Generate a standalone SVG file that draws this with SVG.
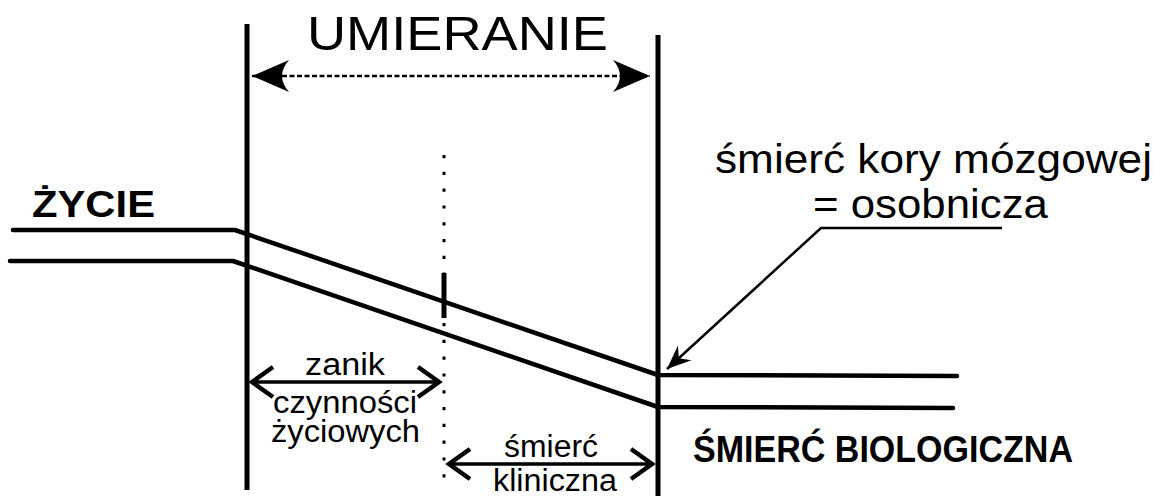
<svg xmlns="http://www.w3.org/2000/svg" width="1158" height="496" viewBox="0 0 1158 496">
<style>
.t{font-family:"Liberation Sans",Arial,sans-serif;fill:#000}
.b{font-weight:bold}
.thick{stroke:#000;stroke-width:5;fill:none;stroke-linecap:butt}
.life{stroke:#000;stroke-width:4.5;fill:none;stroke-linecap:round;stroke-linejoin:round}
.span{stroke:#000;stroke-width:3.5;fill:none}
</style>
<defs>
<marker id="big" markerUnits="userSpaceOnUse" markerWidth="50" markerHeight="40" refX="0" refY="0" viewBox="-40 -20 50 40" orient="auto-start-reverse" overflow="visible">
<path d="M0,0 L-37,-16 Q-23,0 -37,16 Z" fill="#000"/>
</marker>
<marker id="chev" markerUnits="userSpaceOnUse" markerWidth="40" markerHeight="40" refX="0" refY="0" viewBox="-30 -20 40 40" orient="auto-start-reverse" overflow="visible">
<path d="M-21,-15 L0,0 L-21,15" fill="none" stroke="#000" stroke-width="4.5" stroke-linejoin="miter"/>
</marker>
<marker id="barb" markerUnits="userSpaceOnUse" markerWidth="40" markerHeight="40" refX="0" refY="0" viewBox="-30 -20 40 40" orient="auto" overflow="visible">
<path d="M0,0 L-24,-10 L-16,0 L-24,10 Z" fill="#000"/>
</marker>
</defs>
<rect width="1158" height="496" fill="#fff"/>

<g id="boundaries">
<line class="thick" x1="247" y1="24" x2="247" y2="490"/>
<line class="thick" x1="658" y1="35" x2="658" y2="496"/>
<line x1="444" y1="155" x2="444" y2="482" stroke="#000" stroke-width="3" stroke-dasharray="3.2 13.6"/>
<line x1="444" y1="273" x2="444" y2="318" stroke="#000" stroke-width="5"/>
</g>

<g id="life-lines">
<polyline class="life" points="13,230 235,230 658,375 957,376"/>
<polyline class="life" points="10,261 233,261 658,407 953,408"/>
</g>

<g id="connectors">
<line x1="252" y1="76" x2="650" y2="76" stroke="#000" stroke-width="2.5" stroke-dasharray="5 2.5" marker-start="url(#big)" marker-end="url(#big)"/>
<line class="span" x1="252" y1="382" x2="439" y2="382" marker-start="url(#chev)" marker-end="url(#chev)"/>
<line class="span" x1="449" y1="464" x2="652" y2="464" marker-start="url(#chev)" marker-end="url(#chev)"/>
<polyline points="1002,228 821,228 667,369" fill="none" stroke="#000" stroke-width="2.5" marker-end="url(#barb)"/>
</g>

<g id="umieranie"><text class="t" x="307" y="50" font-size="49" textLength="301" lengthAdjust="spacingAndGlyphs">UMIERANIE</text></g>
<g id="zycie"><text class="t b" x="32" y="217" font-size="37" textLength="123" lengthAdjust="spacingAndGlyphs">ŻYCIE</text></g>
<g id="smierc-kory">
<text class="t" x="715" y="173" font-size="41" textLength="437" lengthAdjust="spacingAndGlyphs">śmierć kory mózgowej</text>
<text class="t" x="813" y="218" font-size="41" textLength="235" lengthAdjust="spacingAndGlyphs">= osobnicza</text>
</g>
<g id="zanik">
<text class="t" x="305" y="375" font-size="31" textLength="80" lengthAdjust="spacingAndGlyphs">zanik</text>
<text class="t" x="273" y="413" font-size="31" textLength="144" lengthAdjust="spacingAndGlyphs">czynności</text>
<text class="t" x="271" y="442" font-size="31" textLength="149" lengthAdjust="spacingAndGlyphs">życiowych</text>
</g>
<g id="smierc-kliniczna">
<text class="t" x="504" y="457" font-size="31" textLength="94" lengthAdjust="spacingAndGlyphs">śmierć</text>
<text class="t" x="493" y="491" font-size="31" textLength="124" lengthAdjust="spacingAndGlyphs">kliniczna</text>
</g>
<g id="smierc-biologiczna"><text class="t b" x="693" y="462" font-size="36" textLength="380" lengthAdjust="spacingAndGlyphs">ŚMIERĆ BIOLOGICZNA</text></g>
</svg>
